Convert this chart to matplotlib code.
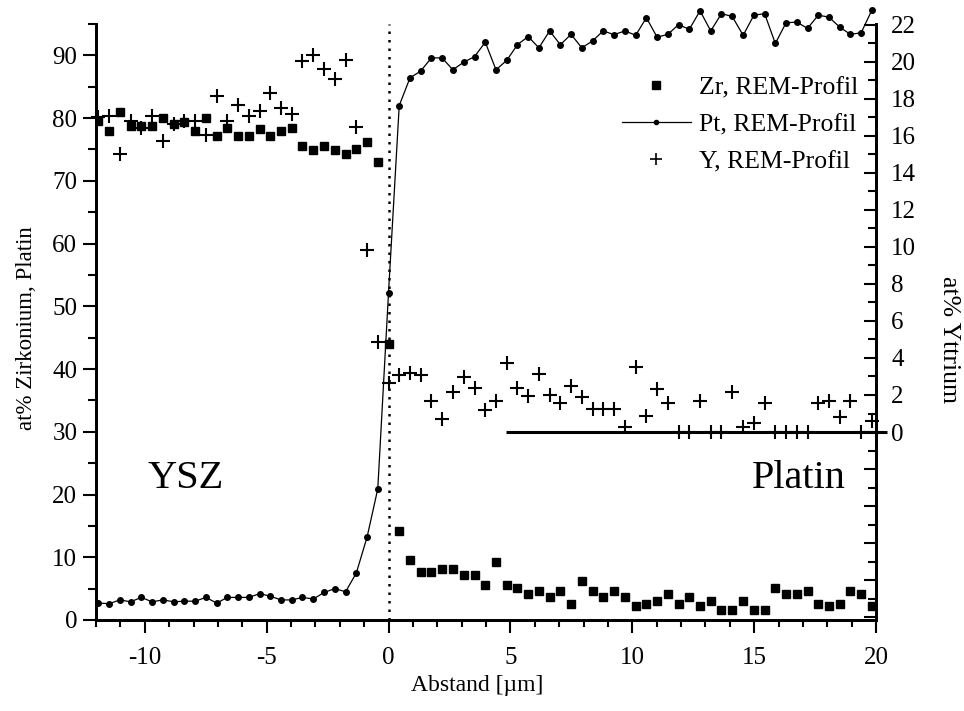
import matplotlib
matplotlib.use("Agg")
import matplotlib.pyplot as plt
from matplotlib.ticker import MultipleLocator, FixedLocator, FuncFormatter
from matplotlib.lines import Line2D

plt.rcParams['font.family'] = ['Liberation Serif', 'DejaVu Serif']
plt.rcParams['axes.unicode_minus'] = False

# ---------------- data ----------------
distance_um = [-11.90, -11.46, -11.02, -10.58, -10.14, -9.70, -9.25, -8.81, -8.37, -7.93,
               -7.49, -7.05, -6.61, -6.17, -5.73, -5.29, -4.85, -4.41, -3.97, -3.53,
               -3.08, -2.64, -2.20, -1.76, -1.32, -0.88, -0.44, 0.00, 0.44, 0.88,
               1.32, 1.76, 2.20, 2.64, 3.08, 3.53, 3.97, 4.41, 4.85, 5.29,
               5.73, 6.17, 6.61, 7.05, 7.49, 7.93, 8.37, 8.81, 9.25, 9.70,
               10.14, 10.58, 11.02, 11.46, 11.90, 12.34, 12.78, 13.22, 13.66, 14.10,
               14.55, 14.99, 15.43, 15.87, 16.31, 16.75, 17.19, 17.63, 18.07, 18.51,
               18.95, 19.39, 19.83]

zr_at = [79.5, 78.0, 80.9, 78.7, 78.7, 78.7, 80.0, 79.0, 79.4, 78.0,
         80.0, 77.2, 78.4, 77.2, 77.2, 78.2, 77.1, 78.0, 78.4, 75.6,
         74.85, 75.5, 74.85, 74.2, 75.0, 76.2, 73.0, 44.0, 14.2, 9.6,
         7.6, 7.6, 8.1, 8.1, 7.1, 7.1, 5.6, 9.2, 5.6, 5.15,
         4.15, 4.6, 3.67, 4.6, 2.55, 6.2, 4.6, 3.67, 4.6, 3.7,
         2.28, 2.55, 3.08, 4.15, 2.55, 3.7, 2.28, 3.08, 1.64, 1.64,
         3.08, 1.64, 1.64, 5.15, 4.15, 4.15, 4.67, 2.55, 2.28, 2.55,
         4.67, 4.15, 2.28]

pt_at = [2.7, 2.6, 3.2, 2.9, 3.6, 2.9, 3.2, 2.9, 3.0, 3.0,
         3.6, 2.7, 3.6, 3.6, 3.6, 4.2, 3.8, 3.2, 3.2, 3.6,
         3.35, 4.4, 5.0, 4.5, 7.5, 13.2, 20.9, 52.1, 82.0, 86.4,
         87.5, 89.6, 89.6, 87.7, 88.9, 89.8, 92.1, 87.7, 89.2, 91.7,
         93.0, 91.2, 93.9, 91.7, 93.35, 91.2, 92.3, 93.9, 93.3, 93.9,
         93.2, 96.0, 92.9, 93.35, 94.9, 94.15, 97.1, 93.9, 96.65, 96.2,
         93.2, 96.4, 96.65, 91.9, 95.2, 95.3, 94.3, 96.4, 96.1, 94.5,
         93.35, 93.6, 97.2]

y_at = [17.0, 17.1, 15.0, 16.8, 16.45, 17.1, 15.75, 16.65, 16.8, 16.8,
        16.05, 18.15, 16.8, 17.65, 17.1, 17.35, 18.3, 17.5, 17.2, 20.05,
        20.4, 19.6, 19.1, 20.1, 16.5, 9.84, 4.88, 2.63, 3.08, 3.17,
        3.08, 1.68, 0.68, 2.18, 2.99, 2.36, 1.19, 1.7, 3.71, 2.36,
        1.96, 3.12, 2.0, 1.58, 2.5, 1.91, 1.24, 1.26, 1.26, 0.29,
        3.5, 0.88, 2.3, 1.58, 0.0, 0.0, 1.68, 0.0, 0.0, 2.14,
        0.29, 0.5, 1.58, 0.0, 0.0, 0.0, 0.0, 1.58, 1.68, 0.8,
        1.68, 0.0, 0.6]

series_labels = ["Zr, REM-Profil", "Pt, REM-Profil", "Y, REM-Profil"]
baseline_x = [4.8, 20.45]
baseline_y = [0, 0]
interface_x = 0.0

# ---------------- figure ----------------
fig = plt.figure(figsize=(9.64, 7.11), dpi=100)
ax = fig.add_axes([96/964, 1-620/711, 780/964, 596/711])
ax2 = ax.twinx()

ax.set_xlim(-12, 20)
ax.set_ylim(0, 95)
ax2.set_ylim(-10.16, 22.05)

k = 'black'
ax.axvline(interface_x, color=k, lw=1.8, ls=(0, (1, 2.4)), zorder=1)

l_zr, = ax.plot(distance_um, zr_at, ls='none', marker='s', ms=6.2, color=k, zorder=3)
l_pt, = ax.plot(distance_um, pt_at, ls='-', lw=0.9, marker='o', ms=4.0, color=k,
                clip_on=False, zorder=3)
l_y, = ax2.plot(distance_um, y_at, ls='none', marker='+', ms=10.5, mew=1.5, color=k,
                clip_on=False, zorder=3)
ax2.plot(baseline_x, baseline_y, color=k, lw=2.2, clip_on=False, solid_capstyle='butt')

for a in (ax, ax2):
    a.spines['top'].set_visible(False)
    for s in ('left', 'right', 'bottom'):
        a.spines[s].set_linewidth(2.0)

# x ticks
ax.xaxis.set_major_locator(MultipleLocator(5))
ax.xaxis.set_minor_locator(MultipleLocator(1))
ax.tick_params(axis='x', which='major', direction='out', length=9.5, width=1.5,
               labelsize=18, pad=10)
ax.tick_params(axis='x', which='minor', direction='out', length=5, width=1.5)

# left y ticks
ax.set_yticks(range(0, 91, 10))
ax.yaxis.set_minor_locator(MultipleLocator(5))
ax.tick_params(axis='y', which='major', direction='out', length=9.5, width=1.5,
               labelsize=18, pad=4)
ax.tick_params(axis='y', which='minor', direction='out', length=5.5, width=1.5)

# right y ticks
ax2.yaxis.set_major_locator(FixedLocator(range(-10, 23, 2)))
ax2.yaxis.set_minor_locator(MultipleLocator(1))
ax2.yaxis.set_major_formatter(FuncFormatter(lambda v, p: f"{v:.0f}" if v >= 0 else ""))
ax2.tick_params(axis='y', which='major', direction='in', length=8.5, width=1.5,
                labelsize=18, pad=11)
ax2.tick_params(axis='y', which='minor', direction='in', length=5.5, width=1.5)

# labels
ax.set_xlabel("Abstand [µm]", fontsize=17)
ax.xaxis.set_label_coords(0.489, -0.092)
ax.set_ylabel("at% Zirkonium, Platin", fontsize=16.5)
ax.yaxis.set_label_coords(-0.076, 0.49)
ax2.set_ylabel("at% Yttrium", fontsize=18.5, rotation=270, va='center')
ax2.yaxis.set_label_coords(1.093, 0.47)

ax.text(-9.9, 21.0, "YSZ", fontsize=29, va='baseline', ha='left')
ax.text(14.9, 21.0, "Platin", fontsize=29, va='baseline', ha='left')

# legend
h_zr = Line2D([], [], ls='none', marker='s', ms=5.5, color=k)
h_pt = Line2D([], [], ls='-', lw=0.9, marker='o', ms=3.0, color=k)
h_y = Line2D([], [], ls='none', marker='+', ms=9, mew=1.2, color=k)
leg = ax2.legend([h_zr, h_pt, h_y], series_labels, loc='upper right',
                 bbox_to_anchor=(858/964, 1-76/711), bbox_transform=fig.transFigure,
                 frameon=False, fontsize=18.5, handlelength=2.7, handletextpad=0.3,
                 labelspacing=0.55, borderpad=0, borderaxespad=0)

fig.savefig("out.png", dpi=100)
